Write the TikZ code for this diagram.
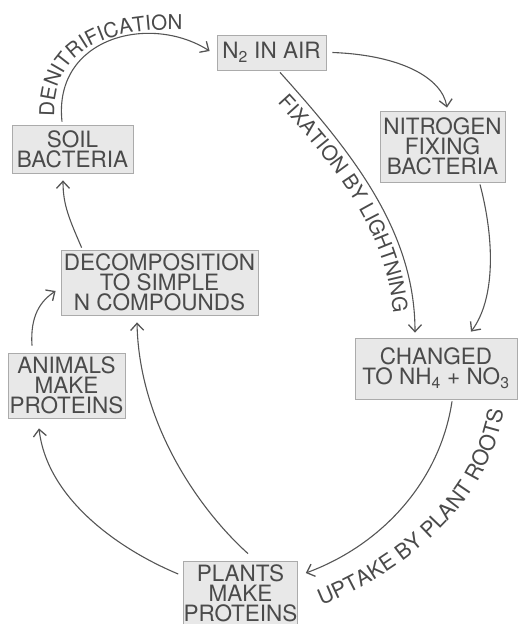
\documentclass[tikz,border=0pt]{standalone}
\usepackage{fontspec}
\setmainfont{TeX Gyre Heros}
\usetikzlibrary{arrows.meta,decorations.text}
\definecolor{txt}{HTML}{4A4A4A}
\definecolor{boxfill}{HTML}{E8E8E8}
\definecolor{boxline}{HTML}{ABABAB}
\definecolor{arr}{HTML}{555555}
\begin{document}
\begin{tikzpicture}[x=1pt,y=-1pt,
  box/.style={draw=boxline, fill=boxfill, line width=0.8pt, text=txt, align=center,
    inner sep=0pt, font=\fontsize{22.5}{20}\selectfont},
  conn/.style={draw=arr, line width=1.1pt, -{Straight Barb[length=7pt,width=13pt,line width=1.3pt]}},
  lbl/.style 2 args={decorate, decoration={text along path, text align=center,
    text={|\fontsize{#1}{20}\selectfont\color{txt}|#2}}},
]
\useasboundingbox (0,0) rectangle (518,624);
\node[box, minimum width=109pt, minimum height=35pt] (air) at (271.5,52.5) {N\textsubscript{2} IN AIR};
\node[box, minimum width=125pt, minimum height=71pt] (nfb) at (442.5,146.5) {NITROGEN\\FIXING\\BACTERIA};
\node[box, minimum width=121pt, minimum height=48pt] (soil) at (72.5,149) {SOIL\\BACTERIA};
\node[box, minimum width=197pt, minimum height=65pt] (decomp) at (159.5,282.5) {DECOMPOSITION\\TO SIMPLE\\N COMPOUNDS};
\node[box, minimum width=117pt, minimum height=65pt] (animals) at (66.5,385.5) {ANIMALS\\MAKE\\PROTEINS};
\node[box, minimum width=162pt, minimum height=61pt] (changed) at (436,368.5) {CHANGED\\TO NH\textsubscript{4} + NO\textsubscript{3}};
\node[box, minimum width=111pt, minimum height=64pt] (plants) at (240.5,593) {PLANTS\\MAKE\\PROTEINS};

% denitrification
\draw[conn] ([shift={(-10.5,-3)}]soil.north) .. controls +(-9,-84) and +(-60,-38) .. ([shift={(-7,-1.5)}]air.west);
\path[lbl={20.5}{DENITRIFICATION}] (55,126) .. controls (48,60) and (90,25) .. (192,30);
% N2 -> nitrogen fixing bacteria
\draw[conn] ([shift={(6,0)}]air.east) .. controls +(68,2.5) and +(-5,-30) .. ([shift={(4.5,-3)}]nfb.north);
% fixation by lightning
\draw[conn] ([shift={(8.5,2)}]air.south) .. controls +(70,78) and +(0,-103) .. ([shift={(-21,-5)}]changed.north);
\path[lbl={20.5}{FIXATION BY LIGHTNING}] (270,95) .. controls (330,160) and (390,230) .. (394,324);
% nitrogen fixing bacteria -> changed
\draw[conn] ([shift={(37.5,2)}]nfb.south) .. controls +(15,57) and +(24,-32) .. ([shift={(35,-6)}]changed.north);
% uptake by plant roots
\draw[conn] ([shift={(16,2)}]changed.south) .. controls +(-12,80) and +(76,-28) .. ([shift={(8,-20)}]plants.east);
\path[lbl={21.5}{UPTAKE BY PLANT ROOTS}] (302,613) .. controls (408,576) and (500,497) .. (506,390);
% plants -> decomposition
\draw[conn] ([shift={(7.5,-7)}]plants.north) .. controls +(-50,-45) and +(2,100) .. ([shift={(-22.5,7)}]decomp.south);
% plants -> animals
\draw[conn] ([shift={(-5,-19)}]plants.west) .. controls +(-60,-25) and +(8,70) .. ([shift={(-27.5,10)}]animals.south);
% animals -> decomposition
\draw[conn] ([shift={(-34.5,-7)}]animals.north) .. controls +(-2,-30) and +(-15,10) .. ([shift={(-5,8.5)}]decomp.west);
% decomposition -> soil bacteria
\draw[conn] ([shift={(21,-2)}]decomp.north west) .. controls +(-12,-28) and +(0,25) .. ([shift={(-9.5,7)}]soil.south);
\end{tikzpicture}
\end{document}
